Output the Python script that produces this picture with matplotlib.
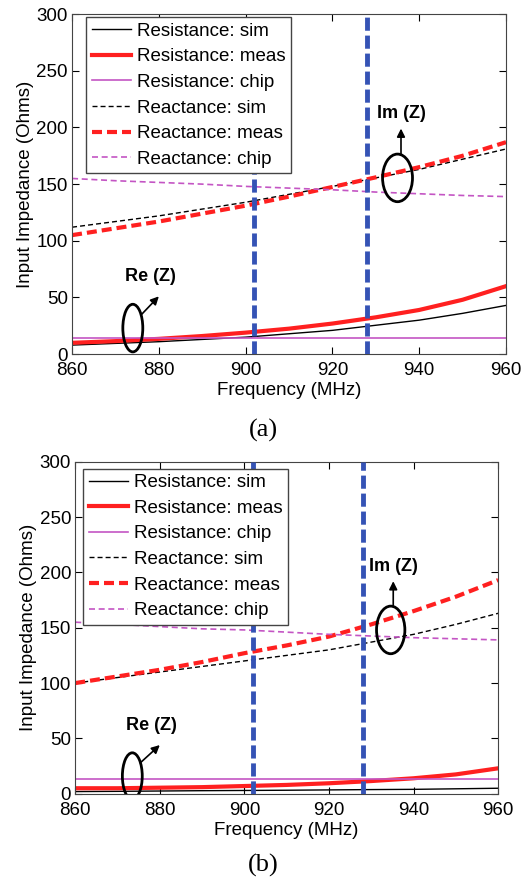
import matplotlib
matplotlib.use("Agg")
import matplotlib.pyplot as plt
from matplotlib.patches import Ellipse

plt.rcParams['font.family'] = ['Liberation Sans', 'DejaVu Sans']

# frequencies (MHz)
freq = [860, 870, 880, 890, 900, 910, 920, 930, 940, 950, 960]

# (a)
res_sim_a = [8, 9.5, 11, 13, 15, 18, 21, 25.5, 30, 36, 43]
res_meas_a = [10, 11.5, 13.5, 16, 19, 22.5, 27, 32.5, 39, 48, 60]
res_chip_a = [14] * 11
react_sim_a = [112, 117, 122, 128, 134, 141, 148, 155.5, 163, 172, 181]
react_meas_a = [105, 111, 117, 124, 131, 139, 147.5, 156, 165, 175, 187]
react_chip_a = [155, 153, 151.5, 150, 148, 146.5, 145, 143, 141.5, 140, 139]

# (b)
res_sim_b = [2, 2.2, 2.5, 2.8, 3, 3.2, 3.5, 3.8, 4, 4.5, 5]
res_meas_b = [5, 5, 5.5, 6, 7, 8, 9.5, 11.5, 14, 17.5, 23]
res_chip_b = [13] * 11
react_sim_b = [100, 105, 110, 115, 120, 125, 130, 137, 144, 153, 163]
react_meas_b = [100, 106, 112, 119, 127, 134, 142, 153, 165, 178, 193]
react_chip_b = [155, 153, 151, 149, 148, 146, 144, 142.5, 141, 140, 139]

band_edges = [902, 928]

# annotation positions: ellipse center (MHz, Ohm), width, height, arrow start/end, text pos
ann_a = {
    're': dict(c=(874, 23), w=4.6, h=42, a0=(876, 35), a1=(880, 51), t=(878, 61)),
    'im': dict(c=(935, 155.5), w=6.9, h=42, a0=(935.8, 176), a1=(935.8, 199), t=(935.8, 205)),
}
ann_b = {
    're': dict(c=(873.5, 16), w=4.7, h=42, a0=(875.4, 28), a1=(880, 44), t=(878, 54)),
    'im': dict(c=(934.6, 148), w=6.7, h=43, a0=(935.2, 169), a1=(935.2, 192), t=(935.2, 198)),
}

magenta = '#c455c4'
blue = '#3553b5'
fs = 13.5


def draw(ax, res_sim, res_meas, res_chip, react_sim, react_meas, react_chip, ann, leg_anchor):
    ax.plot(freq, res_sim, color='black', lw=1.0, label='Resistance: sim')
    ax.plot(freq, res_meas, color='#ff2020', lw=3.0, label='Resistance: meas')
    ax.plot(freq, res_chip, color=magenta, lw=1.2, label='Resistance: chip')
    ax.plot(freq, react_sim, color='black', lw=1.0, ls=(0, (3.6, 2.2)), label='Reactance: sim')
    ax.plot(freq, react_meas, color='#ff2020', lw=3.0, ls=(0, (2.4, 1.2)), label='Reactance: meas')
    ax.plot(freq, react_chip, color=magenta, lw=1.2, ls=(0, (3.6, 2.2)), label='Reactance: chip')
    for f in band_edges:
        ax.axvline(f, color=blue, lw=3.5, ls=(0, (2.7, 1.0)), zorder=5)

    for key, d in ann.items():
        ax.add_patch(Ellipse(d['c'], d['w'], d['h'], fill=False, ec='black', lw=2, zorder=6))
        ax.annotate('', xy=d['a1'], xytext=d['a0'],
                    arrowprops=dict(arrowstyle='-|>', color='black', lw=1.2,
                                    mutation_scale=12, shrinkA=0, shrinkB=0), zorder=6)
        txt = 'Re (Z)' if key == 're' else 'Im (Z)'
        ax.text(d['t'][0], d['t'][1], txt, fontsize=13, fontweight='bold',
                ha='center', va='bottom', zorder=7)

    ax.set_xlim(860, 960)
    ax.set_ylim(0, 300)
    ax.set_xticks(range(860, 961, 20))
    ax.set_yticks(range(0, 301, 50))
    ax.tick_params(direction='in', top=True, right=True, labelsize=fs, length=5)
    ax.tick_params(axis='x', pad=6)
    ax.tick_params(axis='y', pad=3)
    ax.set_xlabel('Frequency (MHz)', fontsize=fs, labelpad=2)
    ax.set_ylabel('Input Impedance (Ohms)', fontsize=fs, labelpad=2)
    for s in ax.spines.values():
        s.set_color('#444444')
    leg = ax.legend(loc='upper left', fontsize=fs, handlelength=2.1, handletextpad=0.3,
                    labelspacing=0.45, borderpad=0.3, borderaxespad=0, fancybox=False,
                    framealpha=1, edgecolor='#444444', bbox_to_anchor=leg_anchor)
    leg.get_frame().set_linewidth(1.0)


fig = plt.figure(figsize=(5.26, 8.81), dpi=100)
ax1 = fig.add_axes([0.137, 0.598, 0.825, 0.386])
ax2 = fig.add_axes([0.143, 0.099, 0.804, 0.377])

draw(ax1, res_sim_a, res_meas_a, res_chip_a, react_sim_a, react_meas_a, react_chip_a, ann_a,
     (0.032, 0.991))
draw(ax2, res_sim_b, res_meas_b, res_chip_b, react_sim_b, react_meas_b, react_chip_b, ann_b,
     (0.019, 0.979))

fig.text(0.5, 1 - 430 / 881, '(a)', family='Liberation Serif', fontsize=19, ha='center', va='center')
fig.text(0.5, 1 - 865 / 881, '(b)', family='Liberation Serif', fontsize=19, ha='center', va='center')

fig.savefig('out.png', dpi=100)
